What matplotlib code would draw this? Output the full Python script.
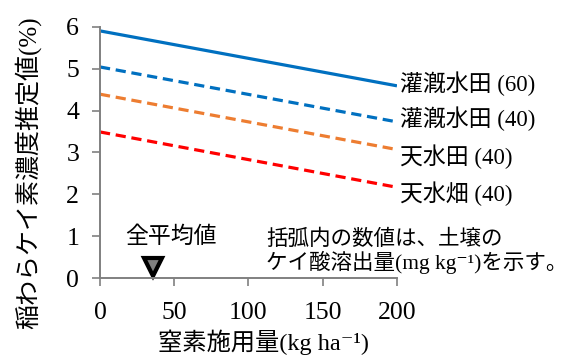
import matplotlib
matplotlib.use("Agg")
import matplotlib.pyplot as plt

# nitrogen rate (kg/ha) and estimated Si concentration in rice straw (%)
nitrogen = [0, 200]
irrigated_60 = [5.9, 4.59]
irrigated_40 = [5.04, 3.73]
rainfed_paddy_40 = [4.39, 3.07]
upland_40 = [3.49, 2.17]

series_labels = ["灌漑水田 (60)", "灌漑水田 (40)", "天水田 (40)", "天水畑 (40)"]
label_y = [4.63, 3.8, 2.9, 2.02]
mean_nitrogen = 36

FAMILY = ["Liberation Serif", "Noto Sans CJK JP", "DejaVu Serif"]
plt.rcParams["font.family"] = FAMILY

fig = plt.figure(figsize=(5.71, 3.56), dpi=100)
ax = fig.add_axes([0.1751, 0.2183, 0.5201, 0.7067])

blue = "#0070C0"
orange = "#ED7D31"
red = "#FF0000"
ax.plot(nitrogen, irrigated_60, color=blue, lw=2.3, solid_capstyle="butt")
ax.plot(nitrogen, irrigated_40, color=blue, lw=2.3, dashes=(3.2, 1.8))
ax.plot(nitrogen, rainfed_paddy_40, color=orange, lw=2.3, dashes=(3.2, 1.8))
ax.plot(nitrogen, upland_40, color=red, lw=2.3, dashes=(3.2, 1.8))

for text, y in zip(series_labels, label_y):
    ax.text(202, y, text, fontsize=16.5, va="center", ha="left", clip_on=False)

ax.plot([mean_nitrogen], [0.28], marker="v", markersize=13, color="#808080",
        markeredgecolor="black", markeredgewidth=3, clip_on=False)
ax.text(48, 0.99, "全平均値", fontsize=16.5, ha="center", va="center")
ax.text(112, 0.62, "括弧内の数値は、土壌の\nケイ酸溶出量(mg kg⁻¹)を示す。",
        fontsize=15.5, ha="left", va="center", linespacing=1.05, clip_on=False)

ax.set_xlim(0, 200)
ax.set_ylim(0, 6)
ax.set_xticks([0, 50, 100, 150, 200])
ax.set_yticks([0, 1, 2, 3, 4, 5, 6])
ax.tick_params(labelsize=18.5, colors="#808080", labelcolor="black", length=6, width=1.2)
ax.tick_params(axis="x", pad=11)
ax.tick_params(axis="y", pad=9)
for side in ["top", "right"]:
    ax.spines[side].set_visible(False)
for side in ["left", "bottom"]:
    ax.spines[side].set_color("#808080")
    ax.spines[side].set_linewidth(1.4)

ax.set_xlabel("窒素施用量(kg ha⁻¹)", fontsize=17.5, va="center")
ax.xaxis.set_label_coords(0.552, -0.255)
ax.set_ylabel("稲わらケイ素濃度推定値(%)", fontsize=18, va="center")
ax.yaxis.set_label_coords(-0.242, 0.419)

fig.savefig("out.png", dpi=100)
